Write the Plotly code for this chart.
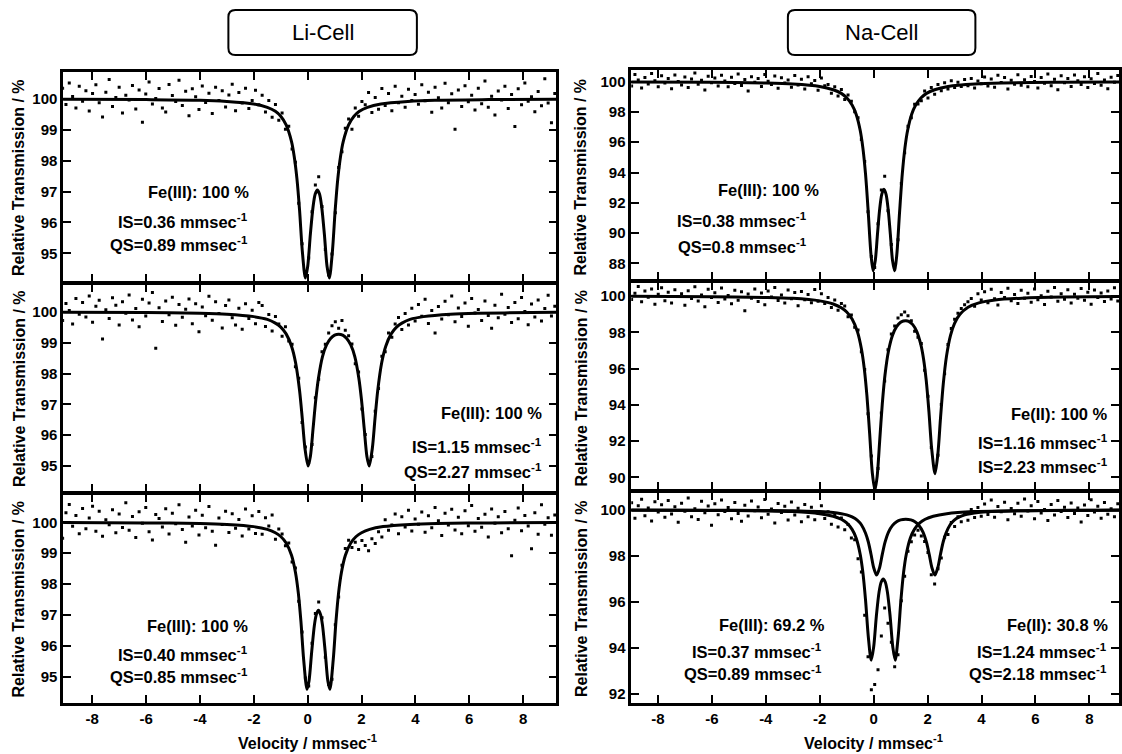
import numpy as np
import plotly.graph_objects as go

W, H = 1122, 754
FONT = "Liberation Sans, Arial, sans-serif"

# ---------------- data ----------------
# channel velocities (mm/s) of the measured points
VELOCITY = np.linspace(-9.1, 9.3, 150)

LI1_DATA = [100.35, 99.82, 100.52, 100.08, 99.71, 100.41, 99.93, 100.27, 99.61, 100.18,
            100.46, 99.88, 99.42, 100.22, 100.63, 99.76, 100.05, 100.38, 99.55, 100.12,
            99.97, 100.44, 99.68, 100.29, 99.25, 100.16, 100.55, 99.84, 100.02, 100.34,
            99.71, 99.58, 100.47, 100.11, 99.92, 100.61, 99.79, 100.25, 99.46, 100.33,
            100.07, 99.66, 100.42, 99.89, 100.19, 99.53, 100.38, 99.95, 100.27, 99.74,
            100.13, 100.48, 99.62, 100.21, 99.87, 100.35, 99.69, 99.95, 100.28, 99.81,
            100.12, 99.58, 99.95, 99.41, 99.82, 99.31, 99.55, 99.02, 99.12, 98.38,
            97.95, 96.62, 95.31, 94.28, 94.85, 96.35, 97.21, 97.48, 96.52, 95.12,
            94.30, 94.98, 96.31, 97.78, 98.29, 99.05, 99.35, 99.02, 99.71, 99.44,
            99.92, 99.81, 100.21, 99.56, 100.05, 99.67, 100.34, 99.79, 100.18, 99.62,
            100.41, 99.88, 100.09, 99.73, 100.32, 99.95, 100.15,
            99.83, 100.46, 99.94, 100.22, 99.57, 100.38, 100.04, 99.71, 100.51, 99.88,
            100.17, 99.02, 100.29, 99.76, 100.43, 99.91, 100.12, 99.64, 100.35, 99.85,
            100.58, 99.73, 100.09, 99.48, 100.26, 99.97, 100.41, 99.69, 100.15, 99.11,
            100.33, 99.81, 100.52, 99.93, 100.07, 99.59, 100.24, 99.78, 100.66, 99.87,
            99.23, 100.18, 99.75]

LI2_DATA = [99.72, 100.28, 100.05, 99.61, 100.44, 99.93, 100.31, 99.84, 100.52, 99.67,
            100.19, 100.38, 99.12, 100.07, 99.79, 100.46, 100.22, 99.58, 100.33, 99.96,
            100.55, 99.74, 100.11, 99.52, 100.41, 99.87, 100.29, 100.63, 98.82, 100.14,
            99.69, 100.36, 99.91, 100.48, 99.57, 100.24, 99.83, 100.09, 100.42, 99.62,
            100.27, 99.36, 100.16, 99.88, 100.51, 99.73, 100.33, 99.95, 99.48, 100.21,
            100.39, 99.81, 99.58, 100.12, 99.44, 100.27, 99.79, 100.06, 99.62, 100.31,
            100.21, 99.53, 99.92, 99.38, 99.85, 99.61, 99.21, 99.52, 99.06, 98.95,
            98.22, 97.85, 96.41, 95.62, 95.11, 95.70, 97.22, 97.82, 98.71, 98.95,
            99.32, 99.55, 99.68, 99.47, 99.72, 99.41, 99.23, 98.96, 98.32, 98.05,
            96.85, 96.02, 95.12, 95.31, 96.78, 97.52, 98.56, 98.71, 99.32, 99.18,
            99.61, 99.82, 99.43, 99.95, 99.58, 100.12, 99.71,
            100.24, 99.86, 100.41, 99.63, 100.05, 99.32, 100.18, 99.77, 100.35, 99.91,
            100.52, 99.68, 100.13, 99.85, 100.29, 99.54, 100.44, 99.97, 100.08, 99.72,
            100.36, 99.89, 99.47, 100.22, 99.81, 100.58, 99.93, 100.15, 99.66, 100.31,
            99.78, 100.47, 100.02, 99.59, 100.26, 99.84, 100.39, 99.71, 100.11, 100.54,
            99.87, 100.19, 99.65]

LI3_DATA = [99.48, 100.31, 100.58, 99.87, 100.22, 99.63, 100.45, 99.79, 100.14, 100.52,
            99.71, 100.36, 99.55, 100.08, 99.92, 100.41, 99.66, 100.27, 99.83, 100.63,
            99.74, 100.19, 99.51, 100.34, 99.97, 100.48, 99.69, 99.43, 100.25, 100.12,
            99.85, 100.44, 99.62, 100.29, 99.95, 100.57, 99.77, 99.35, 100.17, 99.88,
            100.39, 99.59, 100.23, 99.82, 100.51, 99.71, 99.26, 100.14, 99.93, 100.36,
            99.67, 100.28, 99.81, 100.09, 99.56, 100.43, 99.78, 100.21, 99.64, 100.35,
            99.61, 100.15, 99.88, 100.24, 99.45, 99.78, 99.62, 99.24, 99.33, 98.71,
            98.52, 97.44, 96.45, 94.96, 94.70, 96.08, 97.05, 97.42, 96.91, 95.63,
            94.75, 94.92, 96.68, 97.58, 98.61, 99.15, 99.42, 99.18, 99.35, 99.12,
            99.41, 99.25, 99.08, 99.47, 99.31, 99.69, 99.52, 100.08, 99.74, 99.91,
            100.27, 99.63, 100.18, 99.85, 100.39, 99.72, 100.11,
            99.94, 100.33, 99.68, 100.21, 99.82, 100.48, 100.05, 99.57, 100.29, 99.91,
            100.42, 99.75, 100.16, 99.63, 100.37, 99.89, 100.54, 99.71, 100.12, 99.84,
            100.26, 99.52, 100.43, 99.97, 100.18, 99.66, 100.35, 99.79, 98.92, 100.07,
            100.46, 99.73, 100.22, 99.88, 99.14, 100.31, 99.61, 100.57, 99.94, 100.15,
            99.58, 100.24, 99.82]

NA1_DATA = [100.35, 99.72, 100.48, 100.12, 99.58, 100.27, 99.85, 100.54, 100.06, 99.67,
            100.39, 99.91, 100.22, 99.53, 100.44, 100.01, 99.78, 100.31, 99.62, 100.18,
            100.57, 99.84, 100.09, 99.46, 100.36, 99.93, 100.25, 99.71, 100.43, 100.04,
            99.66, 100.29, 99.88, 100.51, 99.75, 100.15, 99.39, 100.33, 99.96, 100.21,
            99.69, 100.47, 100.03, 99.81, 100.38, 99.57, 100.26, 99.92, 100.12, 99.64,
            100.41, 99.79, 100.17, 99.52, 100.32, 99.87, 100.08, 99.43, 100.24, 99.74,
            99.81, 99.24, 99.67, 99.05, 99.48, 98.82, 99.12, 98.71, 98.02, 97.61,
            96.18, 94.72, 91.41, 88.45, 87.72, 90.61, 92.85, 93.75, 91.48, 89.25,
            87.62, 89.55, 93.28, 95.31, 97.05, 97.62, 98.51, 98.52, 98.74, 99.38,
            98.92, 99.61, 99.17, 99.82, 99.41, 99.93, 99.52, 100.06, 99.61, 99.97,
            99.68, 100.14, 99.73, 100.22, 99.58, 100.05, 99.86,
            100.31, 99.72, 100.18, 99.63, 100.42, 99.95, 100.27, 99.51, 100.09, 99.84,
            100.46, 99.77, 100.13, 99.66, 100.35, 100.02, 99.58, 100.28, 99.89, 100.51,
            99.74, 100.16, 99.47, 100.39, 99.93, 100.22, 99.69, 100.44, 100.07, 99.81,
            100.33, 99.62, 100.19, 99.88, 100.55, 99.76, 100.11, 99.54, 100.29, 99.97,
            100.41, 99.83, 100.20]

NA2_DATA = [100.42, 99.81, 100.15, 100.53, 99.68, 100.27, 99.93, 100.38, 99.55, 100.09,
            100.46, 99.74, 100.21, 99.62, 100.34, 99.97, 100.12, 99.49, 100.29, 99.86,
            100.51, 99.72, 100.06, 99.41, 100.37, 99.91, 100.18, 99.64, 100.44, 99.83,
            100.03, 99.57, 100.31, 99.77, 100.24, 99.18, 100.11, 99.88, 100.39, 99.69,
            100.16, 99.52, 100.28, 99.94, 100.47, 99.75, 100.05, 99.61, 100.33, 99.85,
            100.19, 99.46, 100.25, 99.79, 100.08, 99.63, 100.36, 99.71, 100.13, 99.58,
            99.92, 99.36, 99.78, 99.21, 99.58, 99.45, 98.86, 98.95, 98.27, 98.12,
            96.92, 95.95, 93.51, 91.18, 89.42, 90.48, 93.55, 95.31, 97.04, 97.91,
            98.34, 98.78, 98.96, 99.12, 98.91, 98.64, 98.05, 97.72, 97.38, 95.91,
            94.47, 91.65, 90.38, 91.21, 94.02, 95.71, 97.33, 98.21, 98.72, 99.05,
            99.31, 99.52, 99.68, 99.86, 99.43, 100.12, 99.78,
            100.24, 99.63, 100.37, 99.85, 99.51, 100.19, 99.92, 100.43, 99.74, 100.08,
            99.58, 100.31, 99.87, 100.15, 99.66, 100.39, 99.79, 100.02, 99.53, 100.26,
            99.94, 100.47, 99.71, 100.13, 99.82, 100.35, 99.61, 100.09, 99.88, 100.42,
            99.76, 100.21, 99.55, 100.33, 99.91, 100.17, 99.69, 100.28, 99.84, 100.45,
            99.73, 100.06, 99.89]

NA3_DATA = [99.86, 100.32, 99.64, 100.18, 100.47, 99.75, 100.09, 99.52, 100.36, 99.91,
            100.23, 99.68, 100.41, 99.83, 100.14, 99.47, 100.29, 99.95, 100.52, 99.71,
            100.06, 99.59, 100.38, 99.88, 100.17, 99.34, 100.27, 99.79, 100.44, 99.93,
            100.11, 99.62, 100.33, 99.85, 99.51, 100.21, 99.74, 100.39, 99.97, 100.13,
            99.66, 100.46, 99.82, 100.04, 99.43, 100.28, 99.89, 100.16, 99.57, 100.35,
            99.78, 100.08, 99.49, 100.24, 99.71, 100.12, 99.58, 99.86, 100.19, 99.63,
            99.92, 99.38, 99.81, 99.26, 99.65, 99.14, 99.37, 98.78, 98.71, 97.88,
            97.31, 95.42, 93.62, 92.18, 92.41, 93.05, 94.52, 95.74, 95.08, 94.25,
            93.18, 93.71, 96.05, 97.12, 98.21, 98.62, 98.91, 99.12, 98.87, 98.63,
            98.15, 97.18, 96.78, 97.45, 97.91, 98.82, 98.93, 99.46, 99.28, 99.71,
            99.49, 99.85, 99.56, 100.02, 99.67, 100.11, 99.73,
            100.26, 99.81, 100.43, 99.69, 100.15, 99.92, 100.34, 99.58, 100.07, 99.84,
            100.29, 99.73, 100.48, 99.96, 100.18, 99.62, 100.37, 99.87, 100.02, 99.54,
            100.24, 99.78, 100.41, 99.93, 100.12, 99.67, 100.31, 99.85, 100.09, 99.48,
            100.22, 99.76, 100.45, 99.91, 100.16, 99.64, 100.33, 99.82, 100.05, 99.71,
            100.27, 99.89, 100.14]

# fitted curves (velocity, transmission)
LI1_FIT_V = [-9.1, -6, -4, -3, -2, -1.5, -1.2, -1.0, -0.8, -0.6, -0.5, -0.4, -0.3, -0.2, -0.085,
             0.0, 0.1, 0.2, 0.28, 0.36, 0.44, 0.52, 0.62, 0.72, 0.805, 0.92, 1.02, 1.12, 1.22,
             1.32, 1.52, 1.72, 1.92, 2.22, 2.72, 3.72, 4.72, 6.72, 9.3]
LI1_FIT_T = [99.99, 99.98, 99.96, 99.92, 99.84, 99.73, 99.60, 99.44, 99.16, 98.62, 98.14, 97.43,
             96.38, 95.08, 94.20, 94.57, 95.62, 96.51, 96.92, 97.05, 96.92, 96.51, 95.62, 94.57,
             94.20, 95.08, 96.38, 97.43, 98.14, 98.62, 99.16, 99.44, 99.60, 99.73, 99.84, 99.92,
             99.96, 99.98, 99.99]

LI2_FIT_V = [-9.1, -6, -4, -3, -2, -1.5, -1.2, -1.0, -0.8, -0.6, -0.45, -0.3, -0.2, -0.1, 0.015,
             0.1, 0.2, 0.3, 0.4, 0.55, 0.7, 0.85, 1.0, 1.15, 1.3, 1.45, 1.6, 1.75, 1.9, 2.0, 2.1,
             2.2, 2.285, 2.4, 2.5, 2.6, 2.75, 2.9, 3.1, 3.3, 3.5, 3.8, 4.3, 5.3, 6.3, 8.3, 9.3]
LI2_FIT_T = [99.99, 99.98, 99.96, 99.93, 99.85, 99.76, 99.64, 99.51, 99.29, 98.89, 98.36, 97.44,
             96.54, 95.57, 95.00, 95.31, 96.21, 97.14, 97.85, 98.55, 98.93, 99.14, 99.25, 99.28,
             99.25, 99.14, 98.93, 98.55, 97.85, 97.14, 96.21, 95.31, 95.00, 95.57, 96.54, 97.44,
             98.36, 98.89, 99.29, 99.51, 99.64, 99.76, 99.85, 99.93, 99.96, 99.98, 99.99]

LI3_FIT_V = [-9.1, -6, -4, -3, -2, -1.5, -1.2, -1.0, -0.8, -0.6, -0.45, -0.35, -0.25, -0.15, -0.025,
             0.05, 0.15, 0.25, 0.32, 0.4, 0.48, 0.55, 0.65, 0.75, 0.825, 0.95, 1.05, 1.15, 1.25,
             1.4, 1.6, 1.8, 2.0, 2.3, 2.8, 3.8, 4.8, 6.8, 9.3]
LI3_FIT_T = [99.99, 99.98, 99.96, 99.93, 99.86, 99.77, 99.66, 99.54, 99.33, 98.93, 98.36, 97.73,
             96.78, 95.56, 94.59, 94.86, 95.82, 96.67, 97.01, 97.15, 97.01, 96.67, 95.82, 94.86,
             94.59, 95.56, 96.78, 97.73, 98.36, 98.93, 99.33, 99.54, 99.66, 99.77, 99.86, 99.93,
             99.96, 99.98, 99.99]

NA1_FIT_V = [-9.1, -6, -4, -3, -2, -1.5, -1.2, -1.0, -0.8, -0.65, -0.5, -0.4, -0.3, -0.2, -0.1,
             -0.02, 0.06, 0.14, 0.22, 0.30, 0.38, 0.46, 0.54, 0.62, 0.70, 0.78, 0.86, 0.96, 1.06,
             1.16, 1.26, 1.41, 1.56, 1.76, 1.96, 2.26, 2.76, 3.76, 4.76, 6.76, 9.3]
NA1_FIT_T = [99.98, 99.96, 99.91, 99.85, 99.69, 99.47, 99.23, 98.94, 98.46, 97.85, 96.79, 95.63,
             93.87, 91.35, 88.60, 87.50, 88.18, 89.89, 91.53, 92.56, 92.90, 92.56, 91.53, 89.89,
             88.18, 87.50, 88.60, 91.35, 93.87, 95.63, 96.79, 97.85, 98.46, 98.94, 99.23, 99.47,
             99.69, 99.85, 99.91, 99.96, 99.98]

NA2_FIT_V = [-9.1, -6, -4, -3, -2, -1.5, -1.2, -1.0, -0.8, -0.6, -0.45, -0.35, -0.25, -0.15, -0.05,
             0.045, 0.13, 0.22, 0.32, 0.42, 0.55, 0.7, 0.85, 1.0, 1.1, 1.2, 1.3, 1.45, 1.6, 1.75,
             1.85, 1.95, 2.05, 2.15, 2.275, 2.38, 2.48, 2.58, 2.7, 2.85, 3.0, 3.2, 3.5, 3.9, 4.5,
             5.5, 7, 9.3]
NA2_FIT_T = [99.98, 99.96, 99.92, 99.87, 99.73, 99.56, 99.35, 99.12, 98.73, 98.02, 97.05, 96.02,
             94.50, 92.44, 90.25, 89.29, 90.05, 91.93, 94.05, 95.64, 96.97, 97.84, 98.31, 98.55,
             98.62, 98.64, 98.60, 98.42, 98.04, 97.32, 96.53, 95.33, 93.62, 91.60, 90.20, 91.27,
             93.29, 95.13, 96.67, 97.83, 98.49, 98.99, 99.38, 99.62, 99.78, 99.88, 99.94, 99.97]

NA3_FE3_FIT_V = [-9.1, -6, -4, -3, -2, -1.5, -1.2, -1.0, -0.8, -0.65, -0.5, -0.4, -0.3, -0.2, -0.09,
                 0.0, 0.1, 0.2, 0.28, 0.355, 0.43, 0.51, 0.61, 0.71, 0.80, 0.91, 1.01, 1.11, 1.21,
                 1.36, 1.51, 1.71, 1.91, 2.21, 2.71, 3.71, 4.71, 6.71, 9.3]
NA3_FE3_FIT_T = [99.99, 99.98, 99.96, 99.93, 99.84, 99.73, 99.60, 99.44, 99.16, 98.78, 98.08, 97.29,
                 96.07, 94.51, 93.47, 94.04, 95.39, 96.43, 96.87, 97.00, 96.87, 96.43, 95.39, 94.04,
                 93.47, 94.51, 96.07, 97.29, 98.08, 98.78, 99.16, 99.44, 99.60, 99.73, 99.84, 99.93,
                 99.96, 99.98, 99.99]

NA3_FE2_FIT_V = [-9.1, -6, -4, -3, -2, -1.5, -1.2, -1.0, -0.8, -0.6, -0.45, -0.3, -0.2, -0.1, 0.0,
                 0.11, 0.22, 0.32, 0.42, 0.55, 0.7, 0.85, 1.0, 1.19, 1.38, 1.53, 1.68, 1.83, 1.96,
                 2.06, 2.16, 2.27, 2.38, 2.48, 2.58, 2.68, 2.83, 2.98, 3.18, 3.38, 3.58, 3.88, 4.38,
                 5.38, 6.38, 8.38, 9.3]
NA3_FE2_FIT_T = [100.0, 99.99, 99.98, 99.97, 99.93, 99.89, 99.84, 99.79, 99.70, 99.55, 99.35, 98.99,
                 98.62, 98.09, 97.50, 97.17, 97.49, 98.07, 98.59, 99.04, 99.33, 99.49, 99.57, 99.60,
                 99.57, 99.49, 99.33, 99.04, 98.59, 98.07, 97.49, 97.17, 97.50, 98.09, 98.62, 98.99,
                 99.35, 99.55, 99.70, 99.79, 99.84, 99.89, 99.93, 99.97, 99.98, 99.99, 100.0]

X_TICKS = [-8, -6, -4, -2, 0, 2, 4, 6, 8]
X_TICK_TEXT = ["-8", "-6", "-4", "-2", "0", "2", "4", "6", "8"]
LI_Y_TICKS = [95, 96, 97, 98, 99, 100]
NA1_Y_TICKS = [88, 90, 92, 94, 96, 98, 100]
NA2_Y_TICKS = [90, 92, 94, 96, 98, 100]
NA3_Y_TICKS = [92, 94, 96, 98, 100]

COLUMN_TITLES = ["Li-Cell", "Na-Cell"]
Y_TITLE = "Relative Transmission / %"
X_TITLE = "Velocity / mmsec<sup>-1</sup>"

# ---------------- layout geometry (pixels) ----------------
def px(xp):
    return xp / W


def py(yp):
    return 1 - yp / H


LW = 2.5  # frame line width; lines are drawn outside the domain edge
panels = [
    dict(data=LI1_DATA, fits=[(LI1_FIT_V, LI1_FIT_T)], xd=(63.25, 557.75), yd=(72.25, 281.75),
         xr=(-9.083, 9.231), yr=(94.078, 100.867), yt=LI_Y_TICKS, bottom=False),
    dict(data=LI2_DATA, fits=[(LI2_FIT_V, LI2_FIT_T)], xd=(63.25, 557.75), yd=(284.25, 491.75),
         xr=(-9.083, 9.231), yr=(94.164, 100.901), yt=LI_Y_TICKS, bottom=False),
    dict(data=LI3_DATA, fits=[(LI3_FIT_V, LI3_FIT_T)], xd=(63.25, 557.75), yd=(494.25, 702.75),
         xr=(-9.083, 9.231), yr=(94.156, 100.908), yt=LI_Y_TICKS, bottom=True),
    dict(data=NA1_DATA, fits=[(NA1_FIT_V, NA1_FIT_T)], xd=(632.95, 1122), yd=(70.25, 279.75),
         xr=(-8.989, 9.098), yr=(86.913, 100.757), yt=NA1_Y_TICKS, bottom=False),
    dict(data=NA2_DATA, fits=[(NA2_FIT_V, NA2_FIT_T)], xd=(632.95, 1122), yd=(282.25, 489.75),
         xr=(-8.989, 9.098), yr=(89.313, 100.758), yt=NA2_Y_TICKS, bottom=False),
    dict(data=NA3_DATA, fits=[(NA3_FE3_FIT_V, NA3_FE3_FIT_T), (NA3_FE2_FIT_V, NA3_FE2_FIT_T)],
         xd=(632.95, 1122), yd=(492.25, 702.75), xr=(-8.989, 9.098), yr=(91.62, 100.772),
         yt=NA3_Y_TICKS, bottom=True),
]

fig = go.Figure()
layout = dict(
    width=W, height=H, autosize=False,
    margin=dict(l=0, r=0, t=0, b=0, pad=0),
    paper_bgcolor="white", plot_bgcolor="white",
    showlegend=False,
    font=dict(family=FONT, color="black"),
)

axis_common = dict(
    showline=True, linecolor="black", linewidth=LW, mirror="ticks",
    ticks="inside", ticklen=8, tickwidth=2, tickcolor="black",
    showgrid=False, zeroline=False,
    tickfont=dict(family=FONT, size=15, color="black", weight="bold"),
)

for i, p in enumerate(panels):
    n = i + 1
    xa = "x" if n == 1 else f"x{n}"
    ya = "y" if n == 1 else f"y{n}"
    fig.add_trace(go.Scatter(
        x=VELOCITY, y=p["data"], mode="markers", xaxis=xa, yaxis=ya,
        marker=dict(symbol="square", size=3, color="black", line=dict(width=0)),
        hoverinfo="skip"))
    for fv, ft in p["fits"]:
        fig.add_trace(go.Scatter(
            x=fv, y=ft, mode="lines", xaxis=xa, yaxis=ya,
            line=dict(color="black", width=3, shape="spline", smoothing=0.8),
            hoverinfo="skip"))
    layout["xaxis" if n == 1 else f"xaxis{n}"] = dict(
        axis_common, anchor=ya, domain=[px(p["xd"][0]), px(p["xd"][1])],
        range=list(p["xr"]), tickvals=X_TICKS, ticktext=X_TICK_TEXT,
        showticklabels=p["bottom"])
    layout["yaxis" if n == 1 else f"yaxis{n}"] = dict(
        axis_common, anchor=xa, domain=[py(p["yd"][1]), py(p["yd"][0])],
        range=list(p["yr"]), tickvals=p["yt"], ticktext=[str(v) for v in p["yt"]])

fig.update_layout(**layout)


# ---------------- annotations ----------------
def ann(text, x, y, xanchor="right", size=16.5, bold=True, angle=0, yanchor="middle"):
    fig.add_annotation(
        text=f"<b>{text}</b>" if bold else text, x=px(x), y=py(y),
        xref="paper", yref="paper", xanchor=xanchor, yanchor=yanchor,
        showarrow=False, textangle=angle,
        font=dict(family=FONT, size=size, color="black"))


SUP = " mmsec<sup>-1</sup>"
# Li-Cell
ann("Fe(III): 100 %", 252, 192)
ann("IS=0.36" + SUP, 251, 221)
ann("QS=0.89" + SUP, 251, 244)
ann("Fe(III): 100 %", 545, 413)
ann("IS=1.15" + SUP, 545, 446)
ann("QS=2.27" + SUP, 545, 471)
ann("Fe(III): 100 %", 251, 626)
ann("IS=0.40" + SUP, 251, 654)
ann("QS=0.85" + SUP, 251, 676)
# Na-Cell
ann("Fe(III): 100 %", 823, 190)
ann("IS=0.38" + SUP, 811, 220)
ann("QS=0.8" + SUP, 811, 246)
ann("Fe(II): 100 %", 1113, 414)
ann("IS=1.16" + SUP, 1113, 442)
ann("IS=2.23" + SUP, 1113, 466)
ann("Fe(III): 69.2 %", 829, 625)
ann("IS=0.37" + SUP, 826, 651)
ann("QS=0.89" + SUP, 826, 673)
ann("Fe(II): 30.8 %", 1113, 625)
ann("IS=1.24" + SUP, 1112, 651)
ann("QS=2.18" + SUP, 1112, 673)

# axis titles
for cx in (19, 583):
    for top, bot in ((71, 283), (283, 493), (493, 704)):
        ann(Y_TITLE, cx, (top + bot) / 2, xanchor="center", size=16, angle=-90)
ann(X_TITLE, 308, 754, xanchor="center", size=16, yanchor="bottom")
ann(X_TITLE, 876, 754, xanchor="center", size=16, yanchor="bottom")


# column title boxes
def rounded_rect_path(x0, y0, x1, y1, r):
    def P(x, y):
        return f"{px(x):.5f},{py(y):.5f}"
    return (f"M {P(x0 + r, y0)} L {P(x1 - r, y0)} Q {P(x1, y0)} {P(x1, y0 + r)} "
            f"L {P(x1, y1 - r)} Q {P(x1, y1)} {P(x1 - r, y1)} "
            f"L {P(x0 + r, y1)} Q {P(x0, y1)} {P(x0, y1 - r)} "
            f"L {P(x0, y0 + r)} Q {P(x0, y0)} {P(x0 + r, y0)} Z")


for title, (bx0, bx1) in zip(COLUMN_TITLES, ((229, 418), (790, 978))):
    fig.add_shape(type="path", path=rounded_rect_path(bx0, 10, bx1, 55, 7),
                  xref="paper", yref="paper", line=dict(color="black", width=2),
                  fillcolor="white")
    ann(title, (bx0 + bx1) / 2, 33, xanchor="center", size=22, bold=False)

fig.write_html("out.html")
